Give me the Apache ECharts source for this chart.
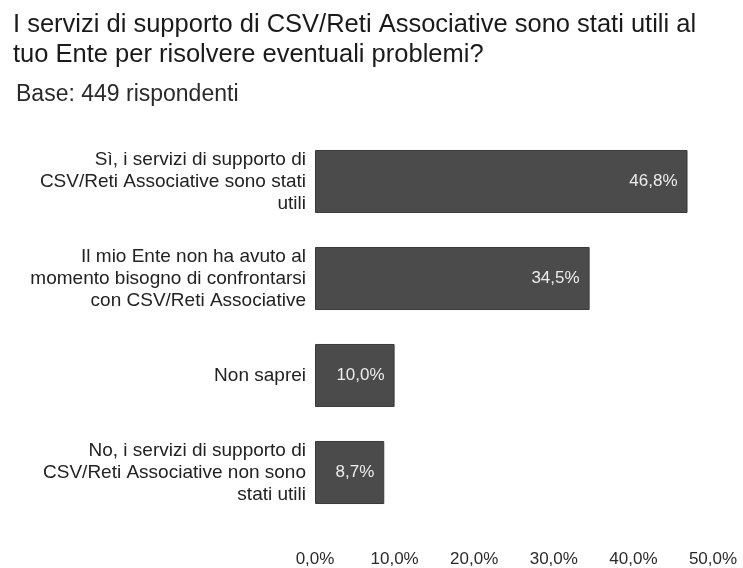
<!DOCTYPE html>
<html>
<head>
<meta charset="utf-8">
<style>
  html, body { margin: 0; padding: 0; background: #ffffff; }
  #chart { width: 743px; height: 568px; }
</style>
<script src="https://cdn.jsdelivr.net/npm/echarts@6/dist/echarts.min.js"></script>
</head>
<body>
<div id="chart"></div>
<script>
// Survey answers, top to bottom
const categories = [
  'Sì, i servizi di supporto di\nCSV/Reti Associative sono stati\nutili',
  'Il mio Ente non ha avuto al\nmomento bisogno di confrontarsi\ncon CSV/Reti Associative',
  'Non saprei',
  'No, i servizi di supporto di\nCSV/Reti Associative non sono\nstati utili'
];
// Share of respondents (%)
const shares = [46.8, 34.5, 10.0, 8.7];
// Value axis range and step (%)
const axisMin = 0;
const axisMax = 50;
const axisStep = 10;

const titleText = 'I servizi di supporto di CSV/Reti Associative sono stati utili al\ntuo Ente per risolvere eventuali problemi?';
const subtitleText = 'Base: 449 rispondenti';

const fmtPct = v => v.toFixed(1).replace('.', ',') + '%';
const FONT = '"Liberation Sans", Arial, sans-serif';

const chart = echarts.init(document.getElementById('chart'), null, { renderer: 'canvas' });
chart.setOption({
  backgroundColor: '#ffffff',
  animation: false,
  title: [
    {
      text: titleText,
      left: 8,
      top: 5,
      textStyle: { fontFamily: FONT, fontSize: 25.5, fontWeight: 'normal', color: '#1a1a1a', lineHeight: 30 }
    },
    {
      text: subtitleText,
      left: 11,
      top: 78,
      textStyle: { fontFamily: FONT, fontSize: 23, fontWeight: 'normal', color: '#2a2a2a', lineHeight: 23 }
    }
  ],
  grid: { left: 315, right: 30, top: 133, bottom: 47, containLabel: false },
  xAxis: {
    type: 'value',
    min: axisMin,
    max: axisMax,
    interval: axisStep,
    axisLine: { show: false },
    axisTick: { show: false },
    splitLine: { show: false },
    axisLabel: {
      margin: 30,
      fontFamily: FONT,
      fontSize: 17,
      color: '#2a2a2a',
      formatter: v => fmtPct(v)
    }
  },
  yAxis: {
    type: 'category',
    inverse: true,
    data: categories,
    axisLine: { show: false },
    axisTick: { show: false },
    axisLabel: {
      margin: 9,
      fontFamily: FONT,
      fontSize: 19,
      lineHeight: 22,
      color: '#222222',
      align: 'right'
    }
  },
  series: [{
    type: 'bar',
    data: shares,
    barCategoryGap: '35%',
    itemStyle: { color: '#4b4b4b', borderColor: '#3a3a3a', borderWidth: 1 },
    label: {
      show: true,
      position: 'insideRight',
      distance: 10,
      fontFamily: FONT,
      fontSize: 17,
      color: '#ececec',
      formatter: p => fmtPct(p.value)
    }
  }]
});
</script>
</body>
</html>
